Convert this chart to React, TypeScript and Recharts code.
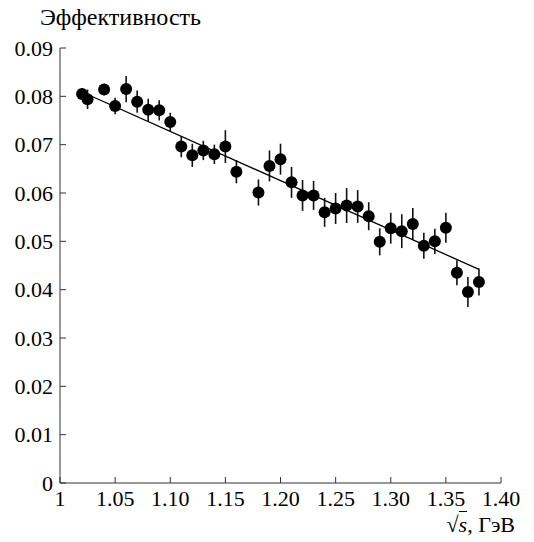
import { ComposedChart, ErrorBar, Scatter, XAxis, YAxis } from "recharts"

// measured energies, efficiency and its error
const energy = [
  1.02, 1.025, 1.04, 1.05, 1.06, 1.07, 1.08, 1.09, 1.1, 1.11, 1.12, 1.13, 1.14,
  1.15, 1.16, 1.18, 1.19, 1.2, 1.21, 1.22, 1.23, 1.24, 1.25, 1.26, 1.27, 1.28,
  1.29, 1.3, 1.31, 1.32, 1.33, 1.34, 1.35, 1.36, 1.37, 1.38,
]
const efficiency = [
  0.0805, 0.0794, 0.0814, 0.078, 0.0815, 0.0789, 0.0772, 0.0771, 0.0747,
  0.0696, 0.0678, 0.0688, 0.068, 0.0696, 0.0644, 0.0601, 0.0656, 0.067,
  0.0622, 0.0595, 0.0595, 0.056, 0.0568, 0.0574, 0.0572, 0.0552, 0.0499,
  0.0527, 0.0521, 0.0536, 0.0491, 0.05, 0.0528, 0.0435, 0.0395, 0.0416,
]
const errors = [
  0.0012, 0.002, 0.0012, 0.0017, 0.0027, 0.0023, 0.0023, 0.0021, 0.0019,
  0.0022, 0.0024, 0.002, 0.002, 0.0034, 0.0024, 0.0027, 0.0032, 0.0032,
  0.0032, 0.0032, 0.003, 0.003, 0.0032, 0.0036, 0.0034, 0.0029, 0.0028,
  0.0032, 0.0035, 0.0033, 0.0027, 0.0026, 0.0031, 0.0026, 0.0031, 0.0028,
]

// linear fit endpoints
const fitEnergy = [1.02, 1.38]
const fitEfficiency = [0.0809, 0.0442]

const xTicks = [1, 1.05, 1.1, 1.15, 1.2, 1.25, 1.3, 1.35, 1.4]
const yTicks = [0, 0.01, 0.02, 0.03, 0.04, 0.05, 0.06, 0.07, 0.08, 0.09]

const points = energy.map((x, i) => ({ x, y: efficiency[i], err: errors[i] }))
const fit = fitEnergy.map((x, i) => ({ x, y: fitEfficiency[i] }))

const font = "'Liberation Serif', 'DejaVu Serif', serif"
const axisStroke = "#333"
const tickStyle = { fontFamily: font, fontSize: 22, fill: "#000" }

const fmtX = (v: number) => (v === 1 ? "1" : v.toFixed(2))
const fmtY = (v: number) => (v === 0 ? "0" : v.toFixed(2))

export default function App() {
  return (
    <div
      style={{
        position: "absolute",
        left: 0,
        top: 0,
        width: 534,
        height: 542,
        background: "#fff",
        fontFamily: font,
      }}
    >
      <div
        style={{
          position: "absolute",
          left: 40,
          top: 4,
          fontSize: 24,
          color: "#000",
        }}
      >
        Эффективность
      </div>

      <div
        style={{
          position: "absolute",
          right: 19,
          top: 512,
          fontSize: 22,
          color: "#000",
        }}
      >
        √<span style={{ borderTop: "1px solid #000", fontStyle: "italic" }}>s</span>, ГэВ
      </div>

      <ComposedChart
        width={534}
        height={542}
        margin={{ top: 48, right: 33, bottom: 29, left: 0 }}
      >
        <XAxis
          dataKey="x"
          type="number"
          domain={[1, 1.4]}
          ticks={xTicks}
          tickFormatter={fmtX}
          tick={tickStyle}
          tickSize={-6}
          tickMargin={13}
          stroke={axisStroke}
          height={30}
          allowDataOverflow
        />
        <XAxis
          xAxisId="top"
          orientation="top"
          type="number"
          domain={[1, 1.4]}
          ticks={xTicks}
          tick={false}
          tickSize={-6}
          stroke={axisStroke}
          height={0}
          allowDataOverflow
        />
        <YAxis
          dataKey="y"
          type="number"
          domain={[0, 0.09]}
          ticks={yTicks}
          tickFormatter={fmtY}
          tick={tickStyle}
          tickSize={-6}
          tickMargin={13}
          stroke={axisStroke}
          width={60}
          allowDataOverflow
        />
        <YAxis
          yAxisId="right"
          orientation="right"
          type="number"
          domain={[0, 0.09]}
          ticks={yTicks}
          tick={false}
          tickSize={-6}
          stroke={axisStroke}
          width={0}
          allowDataOverflow
        />

        <Scatter
          data={fit}
          line={{ stroke: "#000", strokeWidth: 1.3 }}
          shape={() => <g />}
          isAnimationActive={false}
        />

        <Scatter
          data={points}
          fill="#000"
          shape={(p: any) => <circle cx={p.cx} cy={p.cy} r={6} fill="#000" />}
          isAnimationActive={false}
        >
          <ErrorBar
            dataKey="err"
            direction="y"
            width={0}
            stroke="#111"
            strokeWidth={1.6}
            isAnimationActive={false}
          />
        </Scatter>
      </ComposedChart>
    </div>
  )
}
